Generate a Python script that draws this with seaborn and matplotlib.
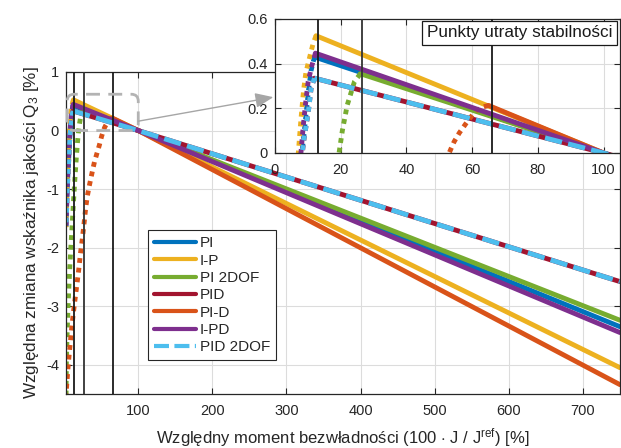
import numpy as np
import pandas as pd
import seaborn as sns
import matplotlib.pyplot as plt
from matplotlib.lines import Line2D
from matplotlib.patches import FancyBboxPatch, ConnectionPatch
from matplotlib.transforms import IdentityTransform

# --- data ------------------------------------------------------------------
controllers = ['PI', 'I-P', 'PI 2DOF', 'PID', 'PI-D', 'I-PD', 'PID 2DOF']
colors = ['#0072BD', '#EDB120', '#77AC30', '#A2142F', '#D95319', '#7E2F8E', '#4DBEEE']

# stable branch (solid), J in % of J_ref, Q3 change in %
pi_j = [12.0, 100, 750]
pi_q = [0.43, 0.0, -3.35]
ip_j = [12.5, 100, 750]
ip_q = [0.525, 0.0, -4.05]
pi2dof_j = [26.0, 100, 750]
pi2dof_q = [0.355, 0.0, -3.24]
pid_j = [12.0, 100, 750]
pid_q = [0.335, 0.0, -2.58]
pi_d_j = [65.0, 100, 750]
pi_d_q = [0.213, 0.0, -4.34]
ipd_j = [12.3, 100, 750]
ipd_q = [0.447, 0.0, -3.45]
pid2dof_j = [12.0, 100, 750]
pid2dof_q = [0.335, 0.0, -2.58]

# branch below the stability limit (dotted)
pi_uj = [12.0, 11.0, 10.2, 9.5, 8.8, 8.2, 7.3, 6.3, 5.0, 4.0, 3.2, 2.6]
pi_uq = [0.43, 0.37, 0.28, 0.18, 0.08, 0.0, -0.2, -0.45, -0.75, -1.05, -1.35, -1.65]
ip_uj = [12.5, 11.6, 10.4, 9.4, 8.7, 7.9, 7.1, 6.3, 5.4, 4.3, 3.5, 2.9, 2.5]
ip_uq = [0.525, 0.49, 0.42, 0.36, 0.28, 0.15, 0.0, -0.2, -0.45, -0.75, -1.05, -1.35, -1.65]
pi2dof_uj = [26.0, 24.2, 22.0, 20.5, 19.5, 18.0, 16.5, 15.0, 13.5, 12.0, 10.5, 9.0, 7.6, 6.2, 4.9, 3.8, 3.0, 2.6]
pi2dof_uq = [0.355, 0.32, 0.215, 0.1, 0.0, -0.2, -0.45, -0.72, -1.02, -1.35, -1.68, -2.0, -2.34, -2.72, -3.12, -3.54, -3.96, -4.5]
pid_uj = [12.0, 11.0, 10.1, 8.9, 8.3, 7.3, 6.4, 5.1, 4.1, 3.3, 2.6]
pid_uq = [0.335, 0.29, 0.18, 0.07, 0.0, -0.2, -0.45, -0.75, -1.05, -1.35, -1.65]
pi_d_uj = [65.0, 63.0, 61.0, 58.6, 56.1, 54.5, 53.0, 50.5, 47.5, 44.0, 41.0, 38.5, 36.0, 33.5, 31.0,
           29.0, 26.5, 24.5, 22.0, 20.0, 17.5, 15.5, 13.5, 11.5, 9.5, 7.5, 5.5, 3.7, 2.6]
pi_d_uq = [0.213, 0.205, 0.187, 0.142, 0.09, 0.05, 0.0, -0.1, -0.25, -0.4, -0.53, -0.67, -0.82, -0.97, -1.14,
           -1.33, -1.63, -1.85, -2.1, -2.34, -2.6, -2.8, -3.0, -3.22, -3.46, -3.73, -4.0, -4.3, -4.5]
ipd_uj = [12.3, 11.2, 10.1, 9.3, 8.6, 7.9, 6.9, 5.9, 4.7, 3.8, 3.1, 2.5]
ipd_uq = [0.447, 0.39, 0.32, 0.22, 0.12, 0.0, -0.2, -0.45, -0.75, -1.05, -1.35, -1.65]
pid2dof_uj = [12.0, 11.0, 10.1, 8.9, 8.3, 7.3, 6.4, 5.1, 4.1, 3.3, 2.6]
pid2dof_uq = [0.335, 0.29, 0.18, 0.07, 0.0, -0.2, -0.45, -0.75, -1.05, -1.35, -1.65]

# stability loss points (vertical lines)
stab_points = [13, 26.5, 66]

main_xticks = [100, 200, 300, 400, 500, 600, 700]
main_yticks = [-4, -3, -2, -1, 0, 1]
inset_xticks = [0, 20, 40, 60, 80, 100]
inset_yticks = [0, 0.2, 0.4, 0.6]
inset_yticklabels = ['0', '0.2', '0.4', '0.6']

zoom_box_j = [4, 100]
zoom_box_q = [0, 0.62]

stable = [(pi_j, pi_q), (ip_j, ip_q), (pi2dof_j, pi2dof_q), (pid_j, pid_q),
          (pi_d_j, pi_d_q), (ipd_j, ipd_q), (pid2dof_j, pid2dof_q)]
unstable = [(pi_uj, pi_uq), (ip_uj, ip_uq), (pi2dof_uj, pi2dof_uq), (pid_uj, pid_uq),
            (pi_d_uj, pi_d_uq), (ipd_uj, ipd_uq), (pid2dof_uj, pid2dof_uq)]

# --- style -----------------------------------------------------------------
sns.set_theme(style='white')
plt.rcParams['font.family'] = ['Liberation Sans', 'DejaVu Sans']
plt.rcParams['axes.unicode_minus'] = False
plt.rcParams['mathtext.fontset'] = 'custom'
plt.rcParams['mathtext.rm'] = 'Liberation Sans'
plt.rcParams['mathtext.it'] = 'Liberation Sans'

AX_COL = '#262626'
LW = 3.5
DASH = (0, (3.6, 1.3))
DOT = (0, (1, 1))


def draw_lines(ax):
    handles = []
    for k, name in enumerate(controllers):
        uj, uq = unstable[k]
        sns.lineplot(x=uj, y=uq, ax=ax, color=colors[k], linewidth=LW, linestyle=DOT,
                     sort=False, estimator=None)
        sj, sq = stable[k]
        ls = DASH if name == 'PID 2DOF' else '-'
        sns.lineplot(x=sj, y=sq, ax=ax, color=colors[k], linewidth=LW, linestyle=ls,
                     sort=False, estimator=None)
        handles.append(Line2D([], [], color=colors[k], lw=3.0, linestyle=ls))
    for i, s in enumerate(stab_points):
        ax.axvline(s, color='k' if i != 1 else '#333333', lw=1.3, zorder=5)
    return handles


def style_axes(ax):
    ax.grid(True, color='#dcdcdc', lw=0.8)
    ax.set_axisbelow(True)
    for sp in ax.spines.values():
        sp.set_color(AX_COL)
        sp.set_linewidth(0.9)
        sp.set_visible(True)
    ax.tick_params(direction='in', length=4, width=0.8, colors=AX_COL,
                   top=True, right=True, bottom=True, left=True,
                   labelsize=10.5, labelcolor=AX_COL)
    ax.tick_params(axis='x', pad=7)
    ax.tick_params(axis='y', pad=5)


fig = plt.figure(figsize=(6.21, 4.48), dpi=100)
ax = fig.add_axes([0.1063, 0.1205, 0.892, 0.7188])
handles = draw_lines(ax)
style_axes(ax)
ax.set_xlim(2.5, 750)
ax.set_ylim(-4.5, 1)
ax.set_xticks(main_xticks)
ax.set_yticks(main_yticks)
ax.set_xlabel('Względny moment bezwładności (100 $\\cdot$ J / J$^{\\mathrm{ref}}$) [%]',
              fontsize=12, color=AX_COL, labelpad=6)
ax.set_ylabel('Względna zmiana wskaźnika jakości Q$_3$ [%]', fontsize=12.3, color=AX_COL, labelpad=4)

leg = ax.legend(handles, controllers, loc='upper left', bbox_to_anchor=(0.148, 0.509),
                borderaxespad=0, fontsize=11, handlelength=2.75, handletextpad=0.25,
                labelspacing=0.22, frameon=True, fancybox=False, borderpad=0.4)
leg.get_frame().set_edgecolor(AX_COL)
leg.get_frame().set_linewidth(0.8)
leg.get_frame().set_alpha(1)

# inset
axin = fig.add_axes([0.4428, 0.6585, 0.5556, 0.2991])
axin.set_facecolor('white')
draw_lines(axin)
style_axes(axin)
axin.set_xlim(0, 105)
axin.set_ylim(0, 0.6)
axin.set_xticks(inset_xticks)
axin.set_yticks(inset_yticks)
axin.set_yticklabels(inset_yticklabels)
axin.set_xlabel('')
axin.set_ylabel('')
axin.text(0.44, 0.897, 'Punkty utraty stabilności', transform=axin.transAxes, fontsize=12.3,
          va='center', ha='left', color='k', zorder=10,
          bbox=dict(boxstyle='square,pad=0.28', fc='white', ec='k', lw=0.9))

# dashed zoom box on the main axes
x0, y0 = ax.transData.transform((zoom_box_j[0], zoom_box_q[0]))
x1, y1 = ax.transData.transform((zoom_box_j[1], zoom_box_q[1]))
box = FancyBboxPatch((x0, y0), x1 - x0, y1 - y0, boxstyle='round,pad=0,rounding_size=7',
                     transform=IdentityTransform(), fill=False, ec='#b3b3b3', lw=2.0,
                     linestyle=(0, (5, 3)), zorder=6)
fig.add_artist(box)

con = ConnectionPatch(xyA=(zoom_box_j[1], 0.16), coordsA=ax.transData,
                      xyB=(-0.5, 0.25), coordsB=axin.transData,
                      arrowstyle='-|>,head_length=1.1,head_width=0.45', mutation_scale=10,
                      color='#a6a6a6', lw=1.0, zorder=7)
fig.add_artist(con)

fig.savefig('out.png', dpi=100)
